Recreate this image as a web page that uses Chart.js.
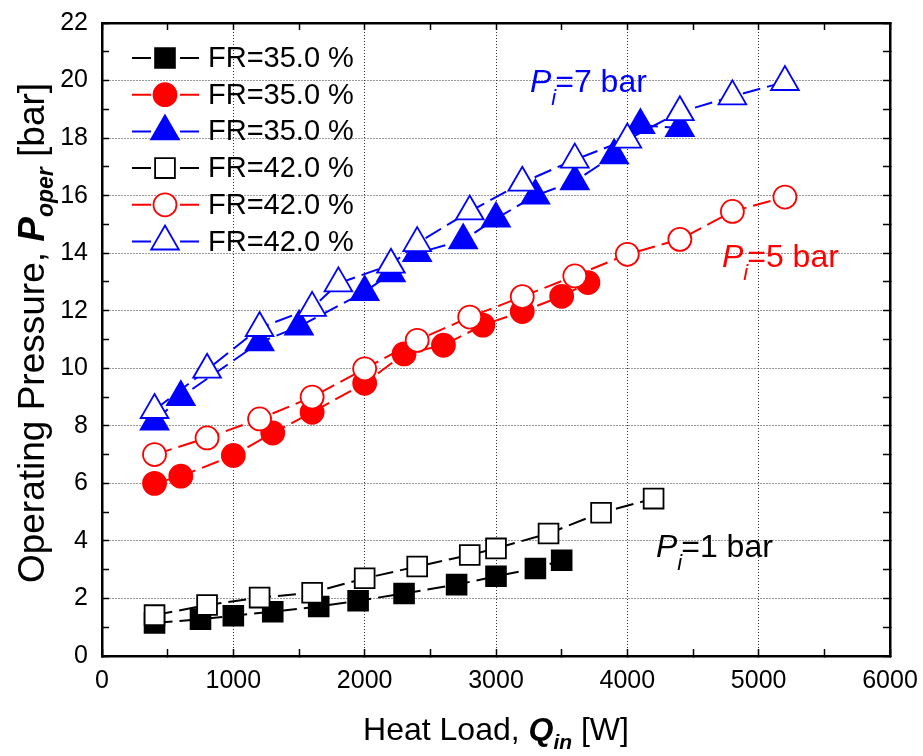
<!DOCTYPE html>
<html>
<head>
<meta charset="utf-8">
<script src="https://cdn.jsdelivr.net/npm/chart.js@4/dist/chart.umd.min.js"></script>
<style>
  html, body { margin: 0; padding: 0; background: #fff; }
</style>
</head>
<body>
<canvas id="grafico" width="923" height="756"></canvas>
<script>
// Datos: carga termica [W] y presion de operacion [bar]
const cargaFR35_1 = [400, 750, 1000, 1300, 1650, 1950, 2300, 2700, 3000, 3300, 3500];
const presionFR35_1 = [1.15, 1.28, 1.4, 1.54, 1.72, 1.92, 2.17, 2.48, 2.77, 3.04, 3.33];

const cargaFR35_5 = [400, 600, 1000, 1300, 1600, 2000, 2300, 2600, 2900, 3200, 3500, 3700];
const presionFR35_5 = [6.0, 6.25, 6.97, 7.75, 8.47, 9.48, 10.5, 10.8, 11.5, 11.97, 12.5, 12.98];

const cargaFR35_7 = [400, 600, 1200, 1500, 2000, 2200, 2400, 2750, 3000, 3300, 3600, 3900, 4100, 4400];
const presionFR35_7 = [8.15, 9.0, 10.9, 11.45, 12.65, 13.3, 14.0, 14.45, 15.2, 16.0, 16.5, 17.4, 18.45, 18.35];

const cargaFR42_1 = [400, 800, 1200, 1600, 2000, 2400, 2800, 3000, 3400, 3800, 4200];
const presionFR42_1 = [1.42, 1.77, 2.03, 2.2, 2.7, 3.11, 3.51, 3.74, 4.26, 4.98, 5.47];

const cargaFR42_5 = [400, 800, 1200, 1600, 2000, 2400, 2800, 3200, 3600, 4000, 4400, 4800, 5200];
const presionFR42_5 = [7.0, 7.58, 8.24, 9.0, 9.98, 10.97, 11.78, 12.49, 13.21, 13.96, 14.48, 15.45, 15.95];

const cargaFR42_7 = [400, 800, 1200, 1600, 1800, 2200, 2400, 2800, 3200, 3600, 4000, 4400, 4800, 5200];
const presionFR42_7 = [8.55, 9.95, 11.4, 12.1, 12.95, 13.6, 14.35, 15.45, 16.45, 17.25, 17.95, 18.9, 19.45, 19.95];

const etiquetasSeries = ["FR=35.0 %", "FR=35.0 %", "FR=35.0 %", "FR=42.0 %", "FR=42.0 %", "FR=42.0 %"];

const fuente = "'Liberation Sans', Arial, sans-serif";
const NEGRO = "#000000", ROJO = "#ff0000", AZUL = "#0000ff";

// Tamano de los marcadores por estilo
const radios = { rect: 14, circle: 11.5, triangle: 16 };

function serie(cargas, presiones) {
    return cargas.map((c, i) => ({ x: c, y: presiones[i] }));
}

function crearSerie(etiqueta, cargas, presiones, color, estilo, relleno) {
    return {
        label: etiqueta,
        data: serie(cargas, presiones),
        showLine: true,
        borderColor: color,
        borderWidth: 2,
        borderDash: [18, 7],
        pointStyle: estilo,
        pointRadius: radios[estilo],
        pointBorderWidth: 1.8,
        pointBorderColor: color,
        pointBackgroundColor: relleno ? color : "#ffffff",
        //las series abiertas van encima
        order: relleno ? 1 : 0
    };
}

const series = [
    crearSerie(etiquetasSeries[0], cargaFR35_1, presionFR35_1, NEGRO, "rect", true),
    crearSerie(etiquetasSeries[1], cargaFR35_5, presionFR35_5, ROJO, "circle", true),
    crearSerie(etiquetasSeries[2], cargaFR35_7, presionFR35_7, AZUL, "triangle", true),
    crearSerie(etiquetasSeries[3], cargaFR42_1, presionFR42_1, NEGRO, "rect", false),
    crearSerie(etiquetasSeries[4], cargaFR42_5, presionFR42_5, ROJO, "circle", false),
    crearSerie(etiquetasSeries[5], cargaFR42_7, presionFR42_7, AZUL, "triangle", false)
];

// Dibuja un texto con partes de distinto estilo (subindices, cursiva)
function textoCompuesto(ctx, partes, x, y, centrado) {
    let total = 0;
    partes.forEach(p => { ctx.font = p.font; total += ctx.measureText(p.texto).width + (p.avance || 0); });
    let pos = centrado ? x - total / 2 : x;
    ctx.textBaseline = "alphabetic";
    ctx.textAlign = "left";
    partes.forEach(p => {
        ctx.font = p.font;
        ctx.fillText(p.texto, pos, y + (p.dy || 0));
        pos += ctx.measureText(p.texto).width + (p.avance || 0);
    });
}

function marcador(ctx, estilo, x, y, color, relleno) {
    const r = radios[estilo];
    ctx.save();
    ctx.lineWidth = 1.8;
    ctx.strokeStyle = color;
    ctx.fillStyle = relleno ? color : "#ffffff";
    ctx.beginPath();
    if (estilo === "rect") {
        const s = r * Math.SQRT1_2;
        ctx.rect(x - s, y - s, 2 * s, 2 * s);
    } else if (estilo === "circle") {
        ctx.arc(x, y, r, 0, 2 * Math.PI);
    } else {
        let ang = 0;
        ctx.moveTo(x, y - r);
        ang += 2 * Math.PI / 3;
        ctx.lineTo(x + Math.sin(ang) * r, y - Math.cos(ang) * r);
        ang += 2 * Math.PI / 3;
        ctx.lineTo(x + Math.sin(ang) * r, y - Math.cos(ang) * r);
    }
    ctx.closePath();
    ctx.fill();
    ctx.stroke();
    ctx.restore();
}

const pluginTextos = {
    id: "textos",
    afterDraw: function (chart) {
        const ctx = chart.ctx;
        ctx.save();

        //Leyenda
        series.forEach((s, i) => {
            const y = 58 + i * 36.7;
            ctx.strokeStyle = s.borderColor;
            ctx.lineWidth = 2;
            ctx.beginPath();
            ctx.moveTo(132, y); ctx.lineTo(151, y);
            ctx.moveTo(180, y); ctx.lineTo(199, y);
            ctx.stroke();
            marcador(ctx, s.pointStyle, 165, y, s.borderColor, s.pointBackgroundColor !== "#ffffff");
            ctx.fillStyle = NEGRO;
            ctx.font = "29px " + fuente;
            ctx.textBaseline = "middle";
            ctx.textAlign = "left";
            ctx.fillText(s.label, 208, y + 1);
        });

        //Anotaciones de presion inicial
        const anotaciones = [
            { texto: "=7 bar", x: 530, y: 92, color: AZUL },
            { texto: "=5 bar", x: 722, y: 267, color: ROJO },
            { texto: "=1 bar", x: 656, y: 557, color: NEGRO }
        ];
        anotaciones.forEach(a => {
            ctx.fillStyle = a.color;
            textoCompuesto(ctx, [
                { texto: "P", font: "italic 32px " + fuente },
                { texto: "i", font: "italic 22px " + fuente, dy: 13, avance: -1 },
                { texto: a.texto, font: "32px " + fuente }
            ], a.x, a.y, false);
        });

        //Titulos de los ejes
        ctx.fillStyle = NEGRO;
        textoCompuesto(ctx, [
            { texto: "Heat Load, ", font: "32px " + fuente },
            { texto: "Q", font: "italic bold 32px " + fuente },
            { texto: "in", font: "italic bold 21px " + fuente, dy: 9 },
            { texto: " [W]", font: "32px " + fuente }
        ], 496, 740, true);

        ctx.save();
        ctx.translate(44, 333);
        ctx.rotate(-Math.PI / 2);
        textoCompuesto(ctx, [
            { texto: "Operating Pressure, ", font: "37px " + fuente },
            { texto: "P", font: "italic bold 37px " + fuente },
            { texto: "oper", font: "italic bold 23px " + fuente, dy: 9 },
            { texto: " [bar]", font: "37px " + fuente }
        ], 0, 0, true);
        ctx.restore();

        ctx.restore();
    }
};

const colorRejilla = (paso, min, max) => function (c) {
    const v = c.tick ? c.tick.value : null;
    if (v === null || v % paso !== 0 || v <= min || v >= max) return "rgba(0,0,0,0)";
    return "#333333";
};

// Se quita el relleno que la escala pide para sus etiquetas extremas,
// asi el area del grafico queda fijada por layout.padding
function sinRelleno(s) {
    s.paddingTop = 0; s.paddingBottom = 0;
    s.paddingLeft = 0; s.paddingRight = 0;
}

new Chart("grafico", {
    type: "scatter",
    data: { datasets: series },
    plugins: [pluginTextos],
    options: {
        responsive: false,
        animation: false,
        events: [],
        layout: { padding: { left: 0, top: 23, right: 33, bottom: 0 } },
        plugins: { legend: { display: false }, tooltip: { enabled: false } },
        scales: {
            x: {
                type: "linear", position: "bottom", min: 0, max: 6000,
                ticks: {
                    stepSize: 500, autoSkip: false, maxRotation: 0, padding: 17,
                    color: NEGRO, font: { family: fuente, size: 25 },
                    callback: v => (v % 1000 === 0 ? v : "")
                },
                grid: { color: colorRejilla(1000, 0, 6000), lineWidth: 1, tickLength: -7, tickColor: NEGRO, tickWidth: 1.5 },
                border: { color: NEGRO, width: 2.5, dash: [1, 2] },
                afterFit: s => { s.height = 100; sinRelleno(s); }
            },
            y: {
                type: "linear", position: "left", min: 0, max: 22,
                ticks: {
                    stepSize: 1, autoSkip: false, padding: 21,
                    color: NEGRO, font: { family: fuente, size: 25 },
                    callback: v => (v % 2 === 0 ? v : "")
                },
                grid: { color: colorRejilla(2, 0, 22), lineWidth: 1, tickLength: -7, tickColor: NEGRO, tickWidth: 1.5 },
                border: { color: NEGRO, width: 2.5, dash: [1, 2] },
                afterFit: s => { s.width = 102; sinRelleno(s); }
            },
            x2: {
                type: "linear", position: "top", min: 0, max: 6000,
                ticks: { stepSize: 500, display: false },
                grid: { drawOnChartArea: false, tickLength: -7, tickColor: NEGRO, tickWidth: 1.5 },
                border: { color: NEGRO, width: 2.5 },
                afterFit: s => { s.height = 0; sinRelleno(s); }
            },
            y2: {
                type: "linear", position: "right", min: 0, max: 22,
                ticks: { stepSize: 1, display: false },
                grid: { drawOnChartArea: false, tickLength: -7, tickColor: NEGRO, tickWidth: 1.5 },
                border: { color: NEGRO, width: 2.5 },
                afterFit: s => { s.width = 0; sinRelleno(s); }
            }
        }
    }
});
</script>
</body>
</html>
